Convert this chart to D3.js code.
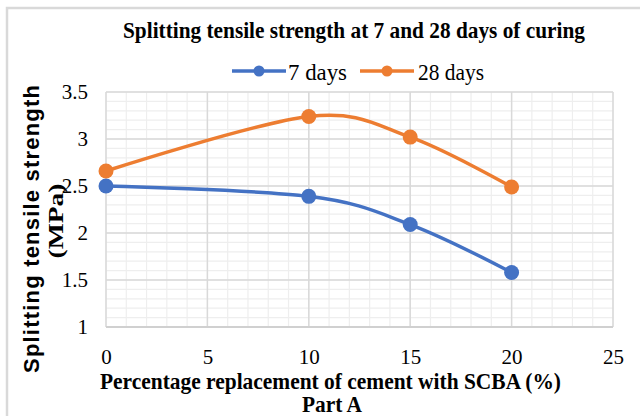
<!DOCTYPE html>
<html><head><meta charset="utf-8">
<script src="https://cdn.jsdelivr.net/npm/d3@7"></script>
<style>body{margin:0;background:#fff}svg{display:block}
.serif{font-family:"Liberation Serif","DejaVu Serif","Times New Roman",serif}
.sans{font-family:"Liberation Sans",Arial,sans-serif}
</style>
</head><body>
<script>
const xValues = [0, 10, 15, 20];
const days7 = [2.5, 2.39, 2.09, 1.58];
const days28 = [2.66, 3.24, 3.02, 2.49];
const xTicks = [0, 5, 10, 15, 20, 25];
const yTicks = [1, 1.5, 2, 2.5, 3, 3.5];
const seriesNames = ["7 days", "28 days"];
const title = "Splitting tensile strength at 7 and 28 days of curing";
const xTitle = "Percentage replacement of cement with SCBA (%)";
const xSub = "Part A";
const yTitle1 = "Splitting tensile strength";
const yTitle2 = "(MPa)";

const W = 640, H = 416;
const colors = ["#4472C4", "#ED7D31"];

const svg = d3.select("body").append("svg").attr("width", W).attr("height", H);
svg.append("rect").attr("x", 7).attr("y", 8).attr("width", 700).attr("height", 500)
  .attr("fill", "#fff").attr("stroke", "#d9d9d9").attr("stroke-width", 2.5);

const L = 106, R = 613, T = 92, B = 327;
const x = d3.scaleLinear().domain([0, 25]).range([L, R]);
const y = d3.scaleLinear().domain([1, 3.5]).range([B, T]);

const g = svg.append("g");
g.selectAll(".mx").data(d3.range(0, 25.01, 1)).join("line")
  .attr("x1", d => x(d)).attr("x2", d => x(d)).attr("y1", T).attr("y2", B)
  .attr("stroke", "#eeeeee").attr("stroke-width", 1.2);
g.selectAll(".my").data(d3.range(1, 3.501, 0.1)).join("line")
  .attr("y1", d => y(d)).attr("y2", d => y(d)).attr("x1", L).attr("x2", R)
  .attr("stroke", "#eeeeee").attr("stroke-width", 1.2);
g.selectAll(".Mx").data(xTicks).join("line")
  .attr("x1", d => x(d)).attr("x2", d => x(d)).attr("y1", T).attr("y2", B)
  .attr("stroke", "#d9d9d9").attr("stroke-width", 1.5);
g.selectAll(".My").data(yTicks).join("line")
  .attr("y1", d => y(d)).attr("y2", d => y(d)).attr("x1", L).attr("x2", R)
  .attr("stroke", "#d9d9d9").attr("stroke-width", 1.5);
g.append("line").attr("x1", L).attr("x2", R).attr("y1", B).attr("y2", B)
  .attr("stroke", "#d0d0d0").attr("stroke-width", 2);

const xAxis = svg.append("g").attr("transform", `translate(0,${B})`)
  .call(d3.axisBottom(x).tickValues(xTicks).tickSize(0).tickPadding(22).tickFormat(d3.format("d")));
xAxis.attr("font-family", null).attr("font-size", null);
xAxis.select(".domain").remove();
xAxis.selectAll("text").attr("class", "serif").style("font-size", "21px").attr("fill", "#000");

const yAxis = svg.append("g").attr("transform", `translate(${L},0)`)
  .call(d3.axisLeft(y).tickValues(yTicks).tickSize(0).tickPadding(18).tickFormat(d => String(d)));
yAxis.attr("font-family", null).attr("font-size", null);
yAxis.select(".domain").remove();
yAxis.selectAll("text").attr("class", "serif").style("font-size", "21px").attr("fill", "#000");

const line = d3.line().x(d => x(d[0])).y(d => y(d[1])).curve(d3.curveCardinal.tension(0));
[days7, days28].forEach((vals, i) => {
  const pts = xValues.map((v, j) => [v, vals[j]]);
  svg.append("path").attr("d", line(pts)).attr("fill", "none")
    .attr("stroke", colors[i]).attr("stroke-width", 3.5).attr("stroke-linecap", "round");
  svg.selectAll(null).data(pts).join("circle")
    .attr("cx", d => x(d[0])).attr("cy", d => y(d[1])).attr("r", 7.5).attr("fill", colors[i]);
});

svg.append("text").attr("class", "serif").attr("x", 354).attr("y", 38).attr("text-anchor", "middle")
  .style("font-weight", "bold").style("font-size", "24px")
  .attr("textLength", 462).attr("lengthAdjust", "spacingAndGlyphs").text(title);

const leg = [{x0: 232, x1: 286, tx: 288, tl: 59}, {x0: 360, x1: 414, tx: 418, tl: 66}];
leg.forEach((l, i) => {
  svg.append("line").attr("x1", l.x0).attr("x2", l.x1).attr("y1", 71).attr("y2", 71)
    .attr("stroke", colors[i]).attr("stroke-width", 3.5);
  svg.append("circle").attr("cx", (l.x0 + l.x1) / 2).attr("cy", 71).attr("r", 5.5).attr("fill", colors[i]);
  svg.append("text").attr("class", "serif").attr("x", l.tx).attr("y", 80).style("font-size", "24px")
    .attr("textLength", l.tl).attr("lengthAdjust", "spacingAndGlyphs").text(seriesNames[i]);
});

svg.append("text").attr("class", "serif").attr("x", 330.5).attr("y", 389).attr("text-anchor", "middle")
  .style("font-weight", "bold").style("font-size", "24px")
  .attr("textLength", 461).attr("lengthAdjust", "spacingAndGlyphs").text(xTitle);
svg.append("text").attr("class", "serif").attr("x", 332).attr("y", 412).attr("text-anchor", "middle")
  .style("font-weight", "bold").style("font-size", "24px")
  .attr("textLength", 60).attr("lengthAdjust", "spacingAndGlyphs").text(xSub);

svg.append("text").attr("class", "sans").attr("transform", "translate(39,229) rotate(-90)").attr("text-anchor", "middle")
  .style("font-weight", "bold").style("font-size", "22px")
  .attr("textLength", 288).attr("lengthAdjust", "spacing").text(yTitle1);
svg.append("text").attr("class", "serif").attr("transform", "translate(63,221) rotate(-90)").attr("text-anchor", "middle")
  .style("font-weight", "bold").style("font-size", "21px")
  .attr("textLength", 75).attr("lengthAdjust", "spacingAndGlyphs").text(yTitle2);
</script>
</body></html>
